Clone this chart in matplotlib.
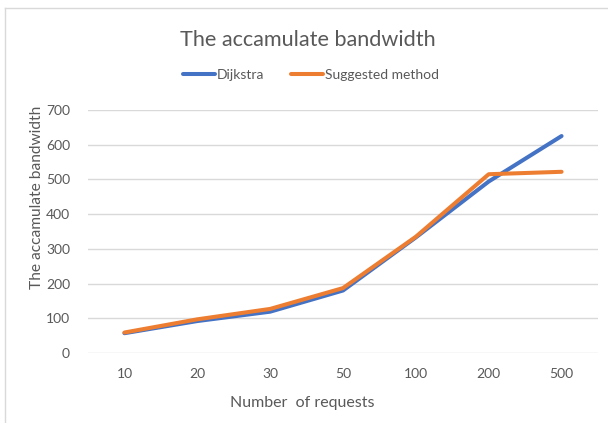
import matplotlib
matplotlib.use("Agg")
import matplotlib.pyplot as plt
from matplotlib.lines import Line2D

# values
requests = ["10", "20", "30", "50", "100", "200", "500"]
dijkstra = [57, 92, 119, 180, 333, 494, 625]
suggested = [59, 97, 127, 187, 335, 515, 522]

plt.rcParams["font.family"] = ["Lato", "DejaVu Sans"]
text_color = "#595959"

fig = plt.figure(figsize=(6.08, 4.23), dpi=100)
ax = fig.add_axes([88 / 608, 1 - 353 / 423, 510 / 608, 243 / 423])

x = range(len(requests))
ax.plot(x, dijkstra, color="#4472C4", lw=2.9, label="Dijkstra", solid_capstyle="round")
ax.plot(x, suggested, color="#ED7D31", lw=2.9, label="Suggested method", solid_capstyle="round")

ax.set_xlim(-0.5, len(requests) - 0.5)
ax.set_ylim(0, 700)
ax.set_yticks(range(0, 701, 100))
ax.set_xticks(list(x))
ax.set_xticklabels(requests)
ax.yaxis.grid(True, color="#D9D9D9", lw=1)
ax.set_axisbelow(True)
for s in ax.spines.values():
    s.set_visible(False)
ax.tick_params(length=0, labelsize=10, labelcolor=text_color)
ax.tick_params(axis="y", pad=13)
ax.tick_params(axis="x", pad=11)

fig.text(308 / 608, 1 - 40 / 423, "The accamulate bandwidth", ha="center", va="center",
         fontsize=15.6, color=text_color)
fig.text(302 / 608, 1 - 403 / 423, "Number  of requests", ha="center", va="center",
         fontsize=11.5, color=text_color)
fig.text(37 / 608, 1 - 197 / 423, "The accamulate bandwidth", ha="center", va="center",
         rotation=90, fontsize=11.2, color=text_color)

leg = fig.legend(loc="center", bbox_to_anchor=(311 / 608, 1 - 75 / 423), ncol=2, frameon=False,
                 fontsize=10, handlelength=2.3, handletextpad=0.15, columnspacing=1.9)
for t in leg.get_texts():
    t.set_color(text_color)

# faint chart-area border (top and left edges visible in the screenshot)
bx, by = 5 / 608, 1 - 8 / 423
fig.add_artist(Line2D([bx, 1], [by, by], transform=fig.transFigure, color="#D9D9D9", lw=1))
fig.add_artist(Line2D([bx, bx], [0, by], transform=fig.transFigure, color="#D9D9D9", lw=1))

fig.savefig("out.png", dpi=100)
